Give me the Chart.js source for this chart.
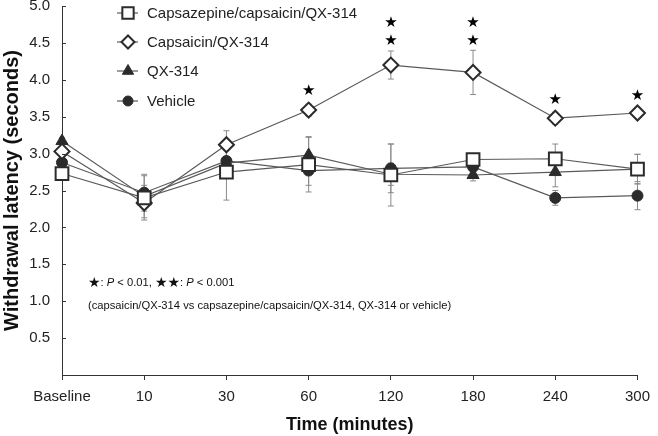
<!DOCTYPE html>
<html>
<head>
<meta charset="utf-8">
<script src="https://cdn.jsdelivr.net/npm/chart.js@4/dist/chart.umd.min.js"></script>
<style>
  html, body { margin: 0; padding: 0; background: #fff; }
  #wrap { width: 658px; height: 436px; }
</style>
</head>
<body>
<div id="wrap"><canvas id="c" width="658" height="436"></canvas></div>
<script>
// ---- data ----
const categories = ['Baseline', '10', '30', '60', '120', '180', '240', '300'];
const seriesLabels = ['Capsazepine/capsaicin/QX-314', 'Capsaicin/QX-314', 'QX-314', 'Vehicle'];

const capsazepineMeans = [2.73, 2.40, 2.75, 2.85, 2.71, 2.92, 2.93, 2.79];
const capsaicinMeans   = [3.03, 2.33, 3.12, 3.59, 4.20, 4.10, 3.48, 3.55];
const qxMeans          = [3.17, 2.42, 2.87, 2.98, 2.72, 2.71, 2.75, 2.79];
const vehicleMeans     = [2.88, 2.47, 2.90, 2.77, 2.80, 2.82, 2.40, 2.43];

const capsazepineErr = [0.05, 0.30, 0.38, 0.37, 0.42, 0.06, 0.20, 0.20];
const capsaicinErr   = [0.05, 0.20, 0.19, 0.08, 0.19, 0.30, 0.08, 0.07];
const qxErr          = [0.05, 0.15, 0.20, 0.25, 0.15, 0.08, 0.20, 0.20];
const vehicleErr     = [0.05, 0.25, 0.15, 0.20, 0.33, 0.07, 0.10, 0.19];

const starCategories = ['60', '120', '120', '180', '180', '240', '300'];
const starValues     = [3.85, 4.53, 4.77, 4.53, 4.77, 3.72, 3.78];

const yTickMin = 0, yTickMax = 5, yTickStep = 0.5;

const noteLine1 = [['★', 'star'], [': ', 'n'], ['P', 'i'], [' < 0.01, ', 'n'], ['★★', 'star'], [': ', 'n'], ['P', 'i'], [' < 0.001', 'n']];
const noteLine2 = '(capsaicin/QX-314 vs capsazepine/capsaicin/QX-314, QX-314 or vehicle)';

// ---- chart ----
const FONT = "'Liberation Sans', Arial, sans-serif";
Chart.defaults.font.family = FONT;
Chart.defaults.color = '#222';

const LINE = '#5a5a5a';
const MARK = '#2b2b2b';

const errSets = [capsazepineErr, capsaicinErr, qxErr, vehicleErr];
const yTickFormat = (v) => v === 0 ? '' : Number(v).toFixed(1);

function ds(label, data, style, radius, filled, legendRadius) {
  return {
    label, data,
    borderColor: LINE, borderWidth: 1.2,
    pointStyle: style, pointRadius: radius, pointHoverRadius: radius,
    pointBackgroundColor: filled ? MARK : '#fff',
    pointBorderColor: MARK,
    pointBorderWidth: filled ? 1 : 2,
    legendRadius,
    clip: 12,
    tension: 0, fill: false
  };
}

const overlay = {
  id: 'overlay',
  beforeDatasetsDraw(chart) {
    const ctx = chart.ctx, xs = chart.scales.x, ys = chart.scales.y;
    ctx.save();
    ctx.strokeStyle = '#8a8a8a';
    ctx.lineWidth = 1;
    chart.data.datasets.forEach((d, di) => {
      const err = errSets[di];
      d.data.forEach((v, i) => {
        const x = xs.getPixelForValue(i);
        const y1 = ys.getPixelForValue(v + err[i]);
        const y2 = ys.getPixelForValue(v - err[i]);
        ctx.beginPath();
        ctx.moveTo(x, y1); ctx.lineTo(x, y2);
        ctx.moveTo(x - 3, y1); ctx.lineTo(x + 3, y1);
        ctx.moveTo(x - 3, y2); ctx.lineTo(x + 3, y2);
        ctx.stroke();
      });
    });
    ctx.restore();
  },
  afterDatasetsDraw(chart) {
    const ctx = chart.ctx, xs = chart.scales.x, ys = chart.scales.y;
    ctx.save();
    // y ticks (inward marks) and their labels, from the scale's own ticks
    ctx.strokeStyle = '#333';
    ctx.lineWidth = 1;
    ctx.fillStyle = '#222';
    ctx.font = '15px ' + FONT;
    ctx.textAlign = 'right';
    ctx.textBaseline = 'middle';
    ys.ticks.forEach((t) => {
      const yp = ys.getPixelForValue(t.value);
      if (t.value !== 0) {
        const y = Math.round(yp) + 0.5;
        ctx.beginPath();
        ctx.moveTo(xs.left, y); ctx.lineTo(xs.left + 4, y);
        ctx.stroke();
      }
      ctx.fillText(yTickFormat(t.value), xs.left - 12, yp);
    });
    // significance stars
    ctx.fillStyle = '#000';
    ctx.font = "15px 'DejaVu Sans'";
    ctx.textAlign = 'center';
    ctx.textBaseline = 'middle';
    starCategories.forEach((c, i) => {
      const x = xs.getPixelForValue(categories.indexOf(c));
      const y = ys.getPixelForValue(starValues[i]);
      ctx.fillText('★', x, y);
    });
    // legend
    const lx0 = 117, lx1 = 138, mx = 128, tx = 147;
    const legendRows = [13, 42, 71, 101];
    chart.data.datasets.forEach((d, i) => {
      const y = legendRows[i];
      ctx.strokeStyle = LINE; ctx.lineWidth = 1.2;
      ctx.beginPath(); ctx.moveTo(lx0, y); ctx.lineTo(lx1, y); ctx.stroke();
      ctx.fillStyle = d.pointBackgroundColor;
      ctx.strokeStyle = d.pointBorderColor;
      ctx.lineWidth = d.pointBorderWidth;
      Chart.helpers.drawPoint(ctx, { pointStyle: d.pointStyle, radius: d.legendRadius, borderWidth: d.pointBorderWidth, rotation: 0 }, mx, y);
      ctx.fillStyle = '#222';
      ctx.font = '15px ' + FONT;
      ctx.textAlign = 'left';
      ctx.textBaseline = 'middle';
      ctx.fillText(d.label, tx, y + 0.5);
    });
    // note
    let nx = 88;
    const ny1 = 283, ny2 = 306;
    ctx.textAlign = 'left';
    ctx.textBaseline = 'middle';
    ctx.fillStyle = '#111';
    noteLine1.forEach(([t, s]) => {
      if (s === 'star') ctx.font = "14px 'DejaVu Sans'";
      else if (s === 'i') ctx.font = 'italic 11.2px ' + FONT;
      else ctx.font = '11.2px ' + FONT;
      ctx.fillText(t, nx, ny1);
      nx += ctx.measureText(t).width;
    });
    ctx.font = '11.2px ' + FONT;
    ctx.fillText(noteLine2, 88, ny2);
    ctx.restore();
  }
};

new Chart(document.getElementById('c'), {
  type: 'line',
  data: {
    labels: categories,
    datasets: [
      ds(seriesLabels[0], capsazepineMeans, 'rect', 9, false, 8),
      ds(seriesLabels[1], capsaicinMeans, 'rectRot', 7.5, false, 6.5),
      ds(seriesLabels[2], qxMeans, 'triangle', 7, true, 6.5),
      ds(seriesLabels[3], vehicleMeans, 'circle', 5.5, true, 5)
    ]
  },
  options: {
    responsive: false,
    animation: false,
    events: [],
    layout: { autoPadding: false, padding: { top: 6, right: 13, left: 0, bottom: 0 } },
    plugins: { legend: { display: false }, tooltip: { enabled: false } },
    scales: {
      x: {
        type: 'category',
        offset: false,
        afterFit(s) { s.height = 61; },
        grid: { display: true, drawOnChartArea: false, drawTicks: true, tickLength: 5, color: '#333' },
        border: { display: true, color: '#333', width: 1 },
        ticks: { font: { size: 15 }, color: '#222', padding: 8, maxRotation: 0, autoSkip: false },
        title: { display: true, text: 'Time (minutes)', font: { size: 18, weight: 'bold' }, color: '#111', padding: 0 }
      },
      y: {
        min: yTickMin, max: yTickMax,
        afterFit(s) { s.width = 62; },
        grid: { display: false },
        border: { display: true, color: '#333', width: 1 },
        ticks: { stepSize: yTickStep, display: false },
        title: { display: true, text: 'Withdrawal latency (seconds)', font: { size: 20, weight: 'bold' }, color: '#111', padding: 0 }
      }
    }
  },
  plugins: [overlay]
});
</script>
</body>
</html>
